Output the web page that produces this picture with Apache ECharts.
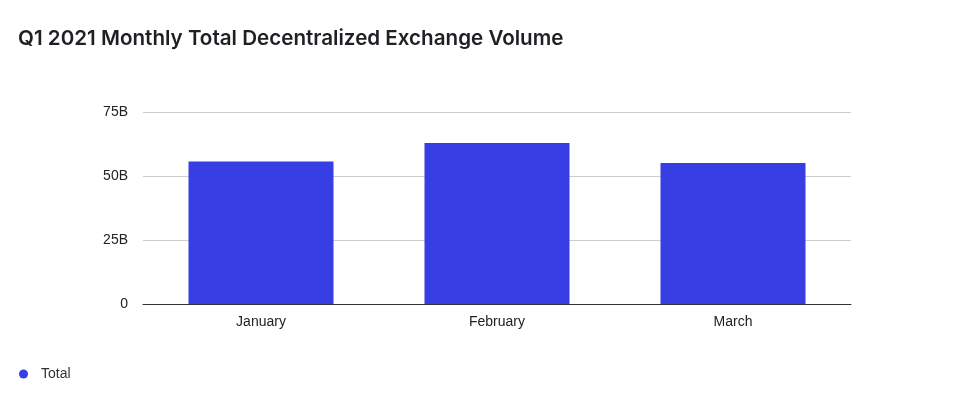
<!DOCTYPE html>
<html>
<head>
<meta charset="utf-8">
<script src="https://cdn.jsdelivr.net/npm/echarts@6/dist/echarts.min.js"></script>
<style>
  html, body { margin: 0; padding: 0; background: #fff; }
  #chart { width: 973px; height: 399px; }
</style>
</head>
<body>
<div id="chart"></div>
<script>
// 数据
const months = ['January', 'February', 'March'];
const totalVolume = [55.7e9, 62.9e9, 55.1e9];
const yTicks = [0, 25e9, 50e9, 75e9];

const chart = echarts.init(document.getElementById('chart'));

function formatBillions(v) {
  if (v === 0) return '0';
  return (v / 1e9) + 'B';
}

chart.setOption({
  animation: false,
  title: {
    text: 'Q1 2021 Monthly Total Decentralized Exchange Volume',
    left: 13,
    top: 23,
    textStyle: {
      fontFamily: 'Inter',
      fontSize: 20.6,
      fontWeight: 600,
      color: '#1f1f24'
    }
  },
  legend: {
    left: 14,
    top: 362,
    icon: 'circle',
    itemWidth: 9,
    itemHeight: 9,
    itemGap: 10,
    textStyle: { fontFamily: 'Liberation Sans', fontSize: 14, color: '#333', padding: [0, 0, 0, 8] },
    data: ['Total']
  },
  grid: { left: 143, right: 122, top: 112, bottom: 95 },
  xAxis: {
    type: 'category',
    data: months,
    axisLine: { lineStyle: { color: '#333', width: 1 } },
    axisTick: { show: false },
    axisLabel: { fontFamily: 'Liberation Sans', fontSize: 14, color: '#222', margin: 11 }
  },
  yAxis: {
    type: 'value',
    min: yTicks[0],
    max: yTicks[yTicks.length - 1],
    interval: yTicks[1] - yTicks[0],
    axisLine: { show: false },
    axisTick: { show: false },
    splitLine: { lineStyle: { color: '#ccc', width: 1 } },
    axisLabel: {
      fontFamily: 'Liberation Sans',
      fontSize: 14,
      color: '#222',
      margin: 15,
      formatter: formatBillions
    }
  },
  series: [{
    name: 'Total',
    type: 'bar',
    data: totalVolume,
    barWidth: 145,
    itemStyle: { color: '#363ee4' }
  }]
});
</script>
</body>
</html>
